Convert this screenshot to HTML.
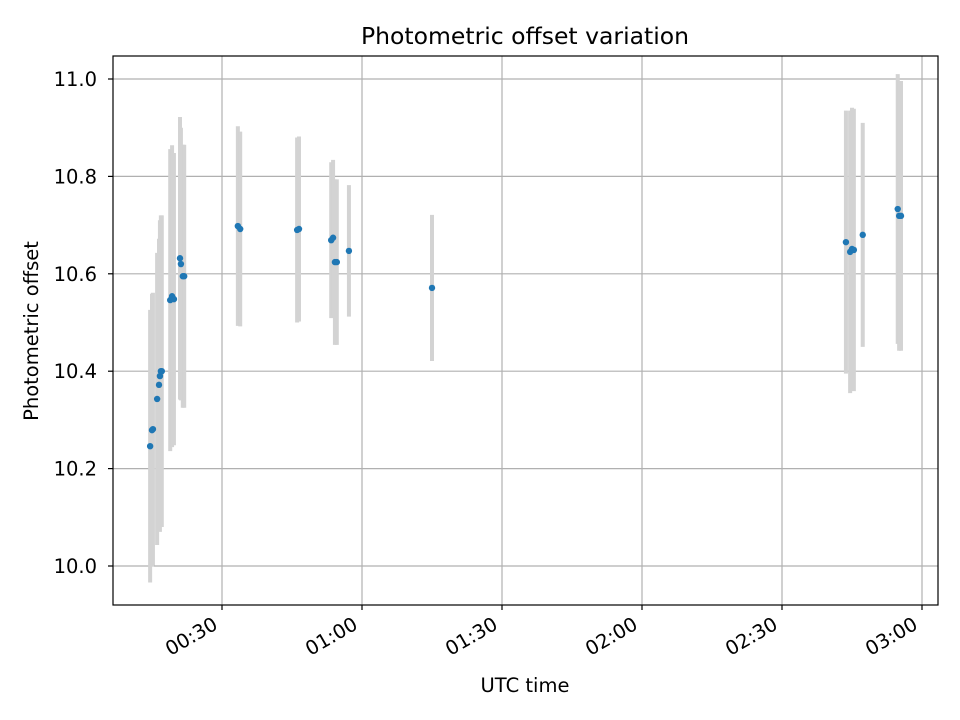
<!DOCTYPE html>
<html><head><meta charset="utf-8">
<style>
body{margin:0;background:#fff;}
svg{display:block;font-family:"DejaVu Sans","Liberation Sans",sans-serif;}
</style></head>
<body>
<svg id="chart" width="960" height="720" viewBox="0 0 960 720">
<rect width="960" height="720" fill="#fff"/>
<text x="525" y="44" text-anchor="middle" font-size="23.5">Photometric offset variation</text>
<g id="grid"></g>
<g id="bars"></g>
<g id="pts"></g>
<rect x="113" y="56" width="825" height="549" fill="none" stroke="#000" stroke-width="1.2"/>
<g id="ticks"></g>
<text x="525" y="692" text-anchor="middle" font-size="19.5">UTC time</text>
<text transform="translate(38,331) rotate(-90)" text-anchor="middle" font-size="19.5">Photometric offset</text>
</svg>
<script>
// time in minutes after 00:00 UTC
const times=[14.6,15.0,15.2,16.1,16.5,16.7,16.9,17.1,18.9,19.3,19.7,21.0,21.2,21.6,21.9,33.4,33.9,46.1,46.5,53.4,53.8,54.2,54.6,57.2,75.0,163.7,164.6,165.0,165.4,167.3,174.8,175.1,175.5];
const offsets=[10.246,10.279,10.281,10.343,10.372,10.39,10.40,10.40,10.546,10.554,10.548,10.632,10.62,10.595,10.595,10.698,10.692,10.69,10.692,10.669,10.674,10.624,10.624,10.647,10.571,10.665,10.645,10.651,10.649,10.68,10.733,10.719,10.719];
const errors=[0.28,0.28,0.28,0.30,0.30,0.32,0.32,0.32,0.31,0.31,0.30,0.29,0.28,0.27,0.27,0.205,0.2,0.19,0.19,0.16,0.16,0.17,0.17,0.135,0.15,0.27,0.29,0.29,0.29,0.23,0.277,0.277,0.277];
const yTicks=[10.0,10.2,10.4,10.6,10.8,11.0];
const xTicks=[30,60,90,120,150,180];
const xTickLabels=["00:30","01:00","01:30","02:00","02:30","03:00"];
const NS="http://www.w3.org/2000/svg";
const X=t=>222+(t-30)*140/30;
const Y=v=>566-(v-10)*487;
function mk(tag,attrs,parent,txt){const e=document.createElementNS(NS,tag);for(const k in attrs)e.setAttribute(k,attrs[k]);if(txt!==undefined)e.textContent=txt;document.getElementById(parent).appendChild(e);return e;}
yTicks.forEach(v=>{
 const g=mk('line',{x1:113,x2:938,y1:Y(v),y2:Y(v),stroke:'#b0b0b0','stroke-width':1.2},'grid');
 
 
 mk('line',{x1:108,x2:113,y1:Y(v),y2:Y(v),stroke:'#000','stroke-width':1.2},'ticks');
 const t=mk('text',{x:97,y:Y(v)+7,'text-anchor':'end','font-size':19.5},'ticks',v.toFixed(1));
 
 
});
xTicks.forEach((m,i)=>{
 const g=mk('line',{x1:X(m),x2:X(m),y1:56,y2:605,stroke:'#b0b0b0','stroke-width':1.2},'grid');
 
 
 mk('line',{x1:X(m),x2:X(m),y1:605,y2:610,stroke:'#000','stroke-width':1.2},'ticks');
 const t=mk('text',{transform:`translate(${X(m)-3},${628}) rotate(-30)`,'text-anchor':'end','font-size':19.5},'ticks',xTickLabels[i]);
 
 
});
times.forEach((t,i)=>{
 const b=mk('line',{x1:X(t),x2:X(t),y1:Y(offsets[i]+errors[i]),y2:Y(offsets[i]-errors[i]),stroke:'#d3d3d3','stroke-width':4},'bars');
 
 
});
times.forEach((t,i)=>{
 const c=mk('circle',{cx:X(t),cy:Y(offsets[i]),r:3.2,fill:'#1f77b4'},'pts');
 
 
});
</script>
</body></html>
